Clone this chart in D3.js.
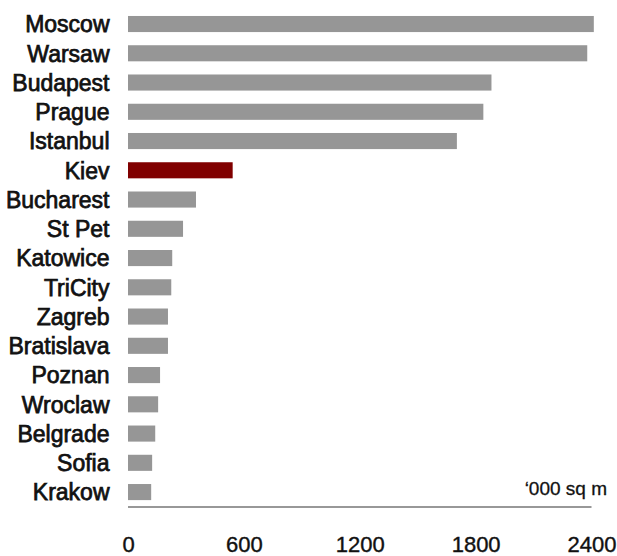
<!DOCTYPE html>
<html>
<head>
<meta charset="utf-8">
<script src="https://cdn.jsdelivr.net/npm/d3@7"></script>
<style>
  html, body { margin: 0; padding: 0; background: #fff; }
  svg { display: block; }
</style>
</head>
<body>
<svg id="chart" width="617" height="556"></svg>
<script>
const categories = ["Moscow","Warsaw","Budapest","Prague","Istanbul","Kiev","Bucharest","St Pet","Katowice","TriCity","Zagreb","Bratislava","Poznan","Wroclaw","Belgrade","Sofia","Krakow"];
const values = [2412, 2378, 1882, 1840, 1703, 542, 352, 285, 229, 224, 207, 207, 166, 156, 141, 125, 120];
const highlight = ["Kiev"];
const tickValues = [0, 600, 1200, 1800, 2400];
const unitLabel = "\u2018000 sq m";

const svg = d3.select("#chart");
const font = "'Liberation Sans', Arial, sans-serif";

const x = d3.scaleLinear().domain([0, 2400]).range([128, 591.5]);
const y = d3.scaleBand().domain(categories).range([9.4, 506.7])
  .paddingInner(0.45).paddingOuter(0.225);

const data = categories.map((c, i) => ({ c, v: values[i] }));

svg.append("g").selectAll("rect").data(data).join("rect")
  .attr("x", x(0))
  .attr("y", d => y(d.c))
  .attr("width", d => x(d.v) - x(0))
  .attr("height", y.bandwidth())
  .attr("fill", d => highlight.includes(d.c) ? "#800000" : "#969696");

svg.append("g").selectAll("text").data(data).join("text")
  .attr("x", 109.5)
  .attr("y", d => y(d.c) + y.bandwidth() / 2)
  .attr("dy", "0.36em")
  .attr("text-anchor", "end")
  .style("font-family", font)
  .style("font-size", "23px")
  .attr("fill", "#111")
  .attr("stroke", "#111")
  .attr("stroke-width", 0.75)
  .text(d => d.c);

// axis
const axis = d3.axisBottom(x).tickValues(tickValues).tickSize(0).tickPadding(0).tickFormat(d3.format("d"));
const ag = svg.append("g").attr("transform", "translate(0,507)").call(axis);
ag.select(".domain").attr("stroke", "#333").attr("stroke-width", 1.2).attr("d", `M${x(0)},0H${x(2400)}`);
ag.selectAll(".tick text")
  .attr("y", 0)
  .attr("dy", 0)
  .attr("transform", "translate(0,45)")
  .style("font-family", font)
  .style("font-size", "22px")
  .attr("fill", "#111")
  .attr("stroke", "#111")
  .attr("stroke-width", 0.4);

svg.append("text")
  .attr("x", 607)
  .attr("y", 495)
  .attr("text-anchor", "end")
  .style("font-family", font)
  .style("font-size", "19px")
  .attr("fill", "#111")
  .attr("stroke", "#111")
  .attr("stroke-width", 0.3)
  .text(unitLabel);
</script>
</body>
</html>
